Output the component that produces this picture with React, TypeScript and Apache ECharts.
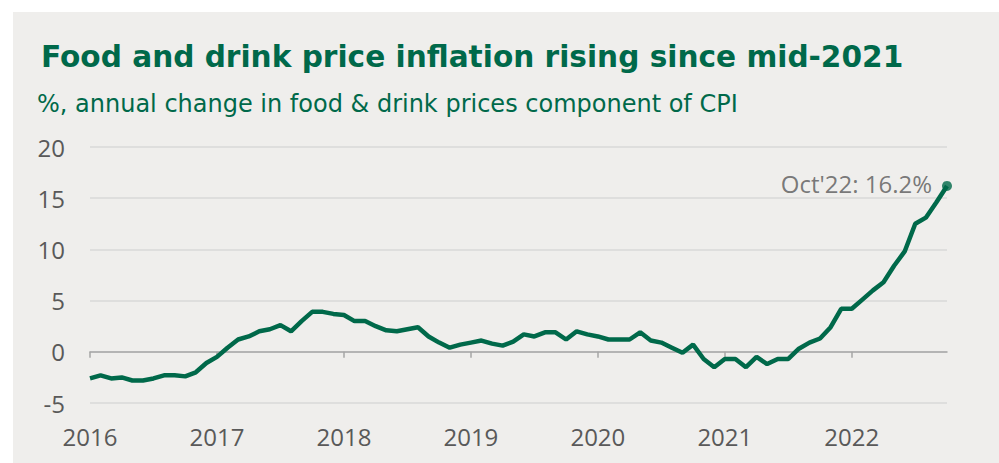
import React, { useEffect, useRef } from "react";
import * as echarts from "echarts";

// Monthly annual % change, Jan 2016 .. Oct 2022
const startYear = 2016;
const values: number[] = [
  // 2016
  -2.6, -2.3, -2.6, -2.5, -2.8, -2.8, -2.6, -2.3, -2.3, -2.4, -2.0, -1.1,
  // 2017
  -0.5, 0.4, 1.2, 1.5, 2.0, 2.2, 2.6, 2.0, 3.0, 3.9, 3.9, 3.7,
  // 2018
  3.6, 3.0, 3.0, 2.5, 2.1, 2.0, 2.2, 2.4, 1.5, 0.9, 0.4, 0.7,
  // 2019
  0.9, 1.1, 0.8, 0.6, 1.0, 1.7, 1.5, 1.9, 1.9, 1.2, 2.0, 1.7,
  // 2020
  1.5, 1.2, 1.2, 1.2, 1.9, 1.1, 0.9, 0.4, -0.1, 0.7, -0.7, -1.5,
  // 2021
  -0.7, -0.7, -1.5, -0.5, -1.2, -0.7, -0.7, 0.3, 0.9, 1.3, 2.4, 4.2,
  // 2022
  4.2, 5.1, 6.0, 6.8, 8.4, 9.8, 12.5, 13.1, 14.6, 16.2,
];

const months: string[] = values.map((_, i) => {
  const y = startYear + Math.floor(i / 12);
  const m = (i % 12) + 1;
  return `${y}-${m < 10 ? "0" + m : m}`;
});

const yTicks = { min: -5, max: 20, interval: 5 };
const titleText = "Food and drink price inflation rising since mid-2021";
const subtitleText = "%, annual change in food & drink prices component of CPI";
const endLabel = "Oct'22: 16.2%";

const GREEN = "#00694A";
const GREY_TEXT = "#595959";
const BG = "#EFEEEC";

export default function App() {
  const ref = useRef<HTMLDivElement>(null);
  useEffect(() => {
    if (!ref.current) return;
    const chart = echarts.init(ref.current, undefined, { renderer: "svg" });
    const last = values.length - 1;
    chart.setOption({
      animation: false,
      backgroundColor: "#ffffff",
      graphic: [
        {
          type: "rect",
          z: -10,
          shape: { x: 13, y: 12, width: 999 - 13, height: 463 - 12 },
          style: { fill: BG },
          silent: true,
        },
        {
          type: "text",
          x: 41,
          y: 57,
          style: {
            text: titleText,
            fill: GREEN,
            font: "bold 29.6px 'DejaVu Sans', sans-serif",
            verticalAlign: "middle",
          },
        },
        {
          type: "text",
          x: 37,
          y: 104,
          style: {
            text: subtitleText,
            fill: GREEN,
            font: "24px 'DejaVu Sans', sans-serif",
            verticalAlign: "middle",
          },
        },
      ],
      grid: { left: 90, right: 52, top: 147, bottom: 463 - 403, containLabel: false, outerBoundsMode: "none" },
      xAxis: {
        type: "category",
        data: months,
        boundaryGap: false,
        axisLine: { onZero: true, lineStyle: { color: "#A6A6A6", width: 1.5 } },
        axisTick: { show: true, interval: 11, length: 6, lineStyle: { color: "#A6A6A6", width: 1.5 } },
        axisLabel: {
          interval: 11,
          margin: 21,
          color: GREY_TEXT,
          fontSize: 24,
          fontFamily: "'Open Sans', 'Noto Sans', sans-serif",
          formatter: (v: string) => v.slice(0, 4),
        },
        splitLine: { show: false },
      },
      yAxis: {
        type: "value",
        min: yTicks.min,
        max: yTicks.max,
        interval: yTicks.interval,
        axisLine: { show: false },
        axisTick: { show: false },
        axisLabel: {
          margin: 25,
          color: GREY_TEXT,
          fontSize: 24,
          fontFamily: "'Open Sans', 'Noto Sans', sans-serif",
        },
        splitLine: { lineStyle: { color: "#D9D9D9", width: 1.5 } },
      },
      series: [
        {
          type: "line",
          data: values,
          showSymbol: false,
          symbol: "none",
          lineStyle: { color: GREEN, width: 4.5 },
          z: 5,
        },
        {
          type: "scatter",
          data: values.map((v, i) => (i === last ? v : "-")),
          symbol: "circle",
          symbolSize: 10,
          itemStyle: { color: GREEN },
          z: 6,
          label: {
            show: true,
            position: "left",
            distance: 10,
            offset: [0, -2],
            formatter: endLabel,
            color: GREY_TEXT,
            fontSize: 24,
            fontFamily: "'Open Sans', 'Noto Sans', sans-serif",
          },
        },
      ],
    });
    return () => chart.dispose();
  }, []);
  return (
    <div
      ref={ref}
      style={{ position: "absolute", left: 0, top: 0, width: 999, height: 463 }}
    />
  );
}
